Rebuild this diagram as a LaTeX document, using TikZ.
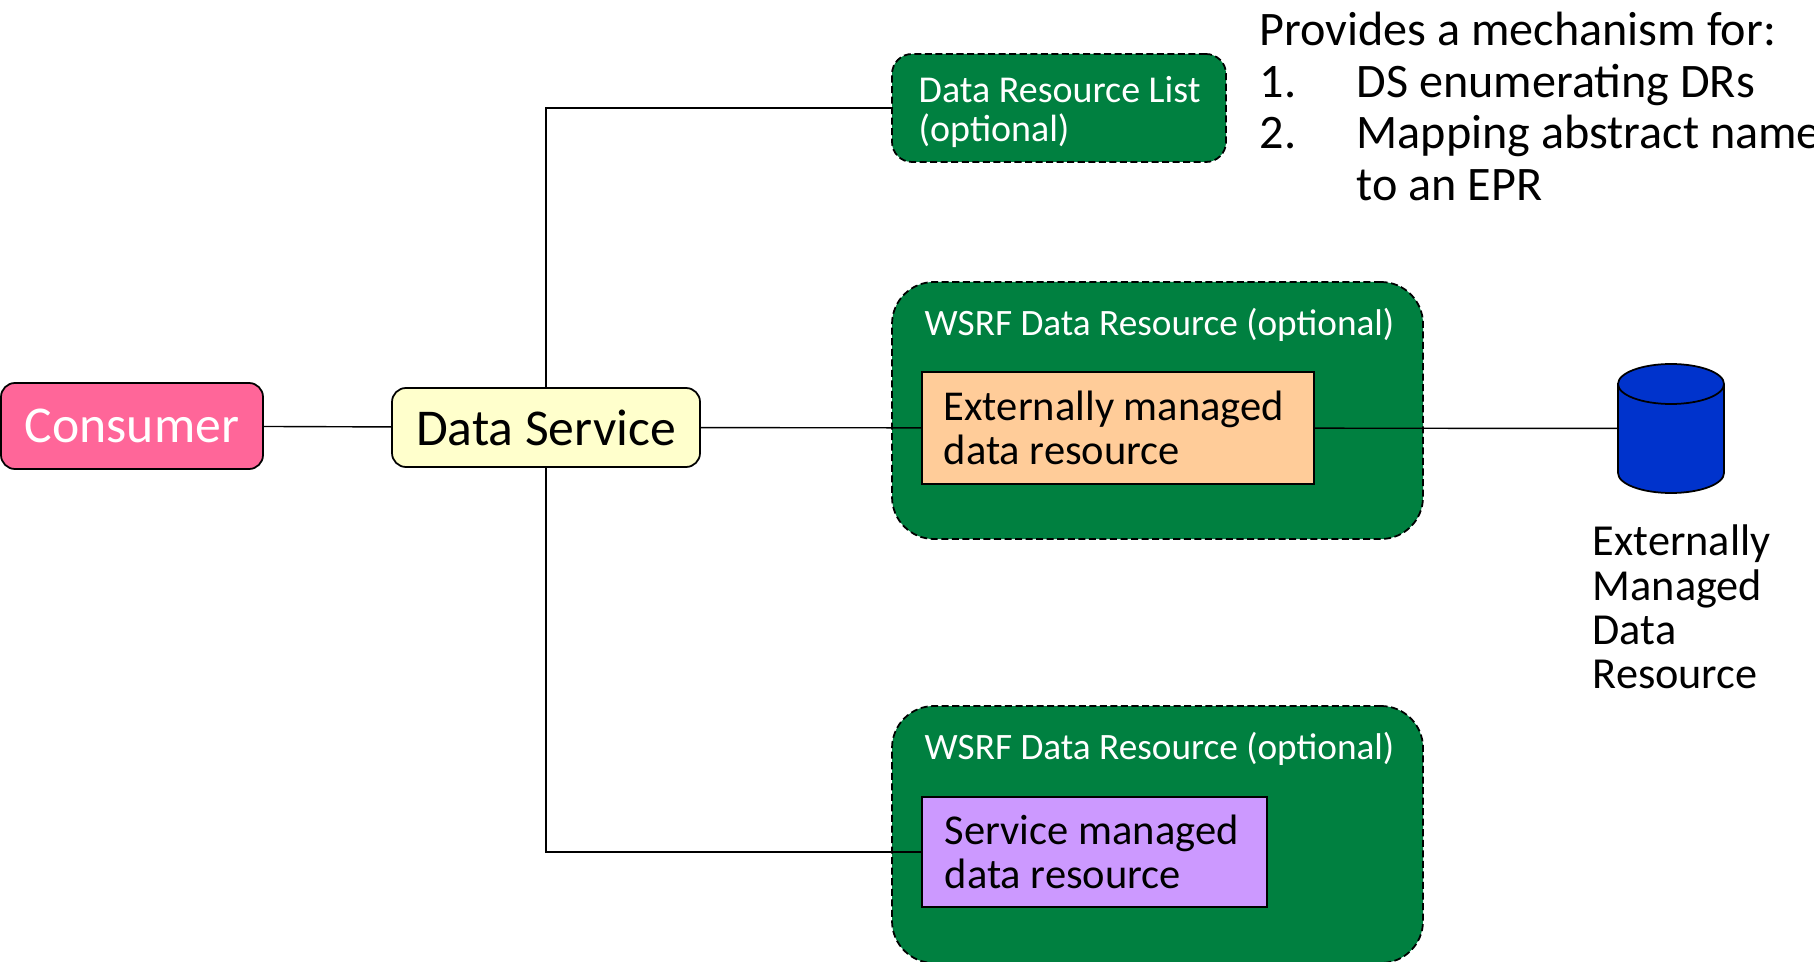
\documentclass[tikz,border=0pt]{standalone}
\usepackage{fontspec}
\setmainfont{Carlito}
\usepackage{tikz}
\definecolor{drgreen}{RGB}{0,128,64}
\definecolor{conspink}{RGB}{255,102,153}
\definecolor{dsyellow}{RGB}{255,255,204}
\definecolor{extorange}{RGB}{255,204,153}
\definecolor{svcpurple}{RGB}{204,153,255}
\definecolor{dbblue}{RGB}{0,51,204}
\tikzset{
  solidbox/.style={draw=black, line width=0.5pt, inner sep=0pt, minimum width=#1},
  greenbox/.style={solidbox=#1, fill=drgreen, rounded corners=0.42cm, dash pattern=on 2pt off 1pt},
  greentext/.style={inner sep=0pt, anchor=west, text=white, align=left, font=\fontsize{10.6}{12}\selectfont},
  blacktext/.style={inner sep=0pt, anchor=west, align=left, font=\fontsize{12.1}{12.6}\selectfont},
}
\begin{document}
\begin{tikzpicture}
        \useasboundingbox (0cm, 0cm) rectangle (18.14cm, 9.61cm);
        \clip (0cm, 0cm) rectangle (18.14cm, 9.61cm);
        \node (consumer) [solidbox=2.62cm, minimum height=0.86cm, fill=conspink, rounded corners=0.14cm, text=white, font=\fontsize{14.7}{18}\selectfont] at (1.32cm, 5.35cm) {Consumer};
        \node (dataservice) [solidbox=3.08cm, minimum height=0.79cm, fill=dsyellow, rounded corners=0.14cm, font=\fontsize{14.7}{18}\selectfont] at (5.46cm, 5.335cm) {Data Service};
        \node (drlist) [greenbox=3.34cm, minimum height=1.08cm, rounded corners=0.2cm] at (10.59cm, 8.53cm) {};
        \node (drlisttext) [greentext, font=\fontsize{10.8}{11.2}\selectfont] at (9.18cm, 8.49cm) {Data Resource List\\(optional)};
        \node (wsrfext) [greenbox=5.31cm, minimum height=2.57cm] at (11.575cm, 5.505cm) {};
        \node (wsrfexttext) [greentext] at (9.24cm, 6.36cm) {WSRF Data Resource (optional)};
        \node (extres) [solidbox=3.92cm, minimum height=1.12cm, fill=extorange] at (11.18cm, 5.33cm) {};
        \node (extrestext) [blacktext] at (9.43cm, 5.33cm) {Externally managed\\data resource};
        \node (wsrfsvc) [greenbox=5.31cm, minimum height=2.57cm] at (11.575cm, 1.265cm) {};
        \node (wsrfsvctext) [greentext] at (9.24cm, 2.12cm) {WSRF Data Resource (optional)};
        \node (svcres) [solidbox=3.45cm, minimum height=1.1cm, fill=svcpurple] at (10.945cm, 1.09cm) {};
        \node (svcrestext) [blacktext] at (9.44cm, 1.09cm) {Service managed\\data resource};
        \node (extdb) [inner sep=0pt, minimum width=1.06cm, minimum height=1.29cm] at (16.71cm, 5.325cm) {};
        \draw [fill=dbblue, line width=0.5pt] (16.18cm, 5.77cm) -- (16.18cm, 4.88cm) arc [start angle=180, end angle=360, x radius=0.53cm, y radius=0.2cm] -- (17.24cm, 5.77cm) arc [start angle=0, end angle=180, x radius=0.53cm, y radius=0.2cm] -- cycle;
        \draw [line width=0.5pt] (16.18cm, 5.77cm) arc [start angle=180, end angle=360, x radius=0.53cm, y radius=0.2cm];
        \node (extdbtext) [blacktext, font=\fontsize{12.6}{12.6}\selectfont] at (15.92cm, 3.54cm) {Externally\\Managed\\Data\\Resource};
        \node (mechanism) [inner sep=0pt, anchor=north west, align=left, font=\fontsize{13.7}{14.7}\selectfont] at (12.59cm, 9.495cm) {Provides a mechanism for:\\\makebox[0.97cm][l]{1.}DS enumerating DRs\\\makebox[0.97cm][l]{2.}Mapping abstract name\\\hspace*{0.97cm}to an EPR};
        \draw (consumer) -- (dataservice);
        \draw (dataservice) |- (drlist);
        \draw (dataservice) -- (extres);
        \draw (dataservice) |- (svcres);
        \draw (extres) -- (extdb);
\end{tikzpicture}
\end{document}
